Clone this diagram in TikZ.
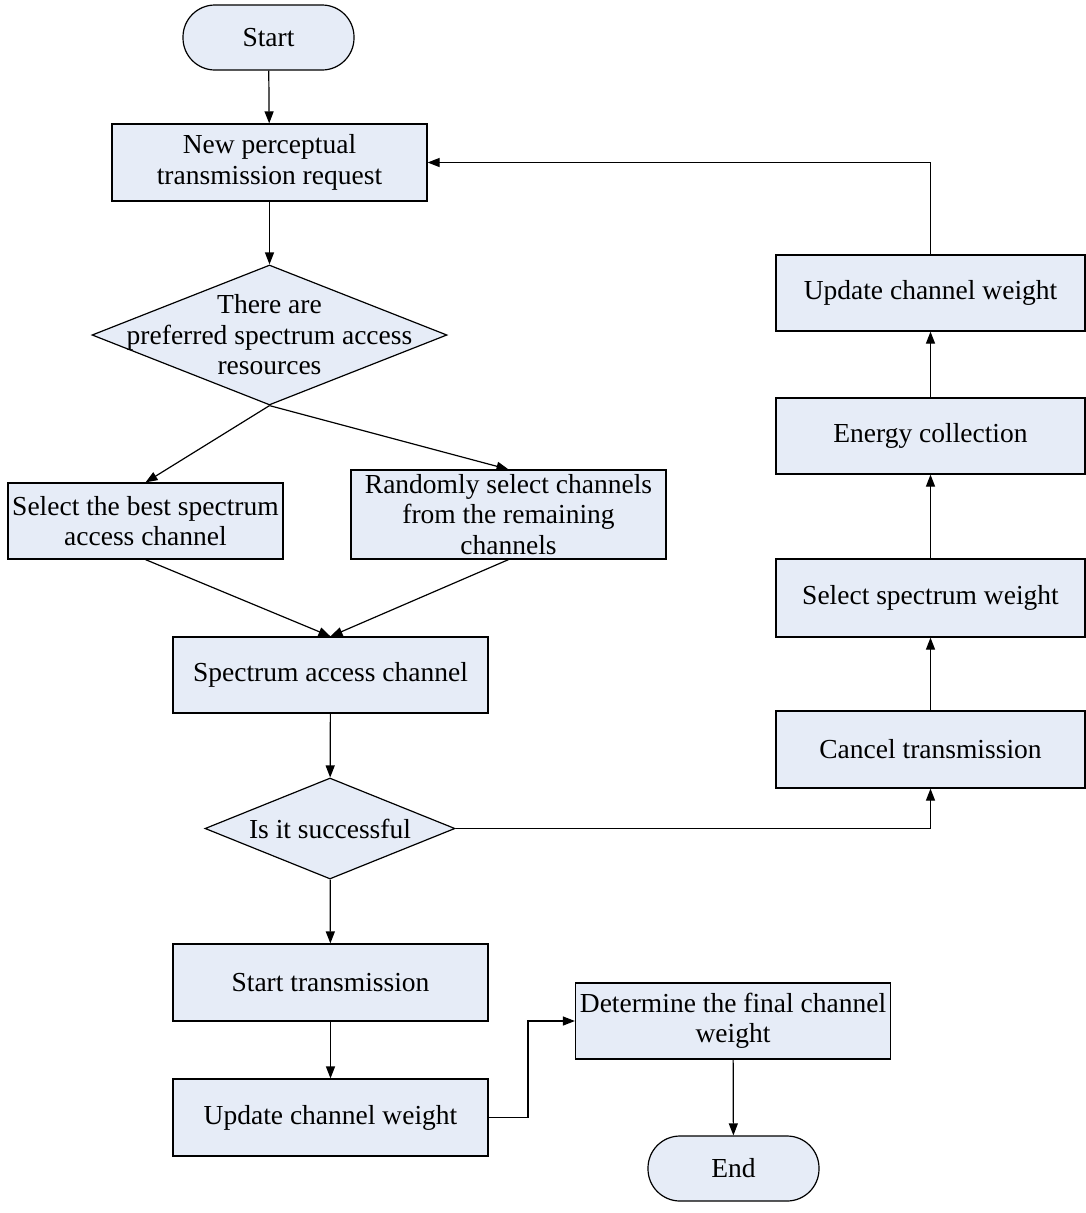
\documentclass[tikz,border=0pt]{standalone}
\usepackage{fontspec}
\setmainfont{Liberation Serif}
\usetikzlibrary{shapes.geometric,arrows.meta}
\definecolor{flowfill}{RGB}{230,236,247}

\begin{document}
\begin{tikzpicture}[x=1pt,y=-1pt,
  proc/.style={draw,fill=flowfill,line width=1.2pt,minimum width=315pt,minimum height=77pt,
    inner xsep=0pt,inner ysep=2pt,align=center,font=\fontsize{27.5}{30.5}\selectfont},
  term/.style={proc,rounded corners=32pt,minimum width=171pt,minimum height=65pt},
  choice/.style={draw,fill=flowfill,line width=1.2pt,diamond,inner sep=0pt,
    label={[align=center,font=\fontsize{27.5}{30.5}\selectfont]center:#1}},
  flow/.style={line width=1.2pt,-{Triangle[length=12pt,width=9pt]}}]
\useasboundingbox (0,0) rectangle (1086,1213);

\node[term] (start) at (268.5,37.5) {Start};
\node[proc] (req) at (269.5,162.5) {New perceptual\\transmission request};
\node[choice={There are\\preferred spectrum access\\resources},minimum width=355pt,minimum height=140pt] (pref) at (269.5,335) {};
\node[proc,minimum width=275pt,minimum height=76pt] (best) at (145.5,521) {Select the best spectrum\\access channel};
\node[proc,minimum height=89pt] (rand) at (508.5,514.5) {Randomly select channels\\from the remaining\\channels};
\node[proc,minimum height=76pt] (access) at (330.5,675) {Spectrum access channel};
\node[choice={Is it successful},minimum width=250pt,minimum height=101pt] (succ) at (330,828.5) {};
\node[proc] (sttx) at (330.5,982.5) {Start transmission};
\node[proc] (updl) at (330.5,1117.5) {Update channel weight};
\node[proc,minimum height=76pt] (final) at (733,1021) {Determine the final channel\\weight};
\node[term] (end) at (733.5,1168.5) {End};

\node[proc,minimum width=309pt,minimum height=76pt] (updr) at (930.5,293) {Update channel weight};
\node[proc,minimum width=309pt,minimum height=76pt] (energy) at (930.5,436) {Energy collection};
\node[proc,minimum width=309pt,minimum height=78pt] (selw) at (930.5,598) {Select spectrum weight};
\node[proc,minimum width=309pt,minimum height=77pt] (cancel) at (930.5,749.5) {Cancel transmission};
\coordinate (knee) at (528,1117.5);

\draw[flow] (start) -- (req);
\draw[flow] (req) -- (pref);
\draw[flow] (pref.south) -- (best.north);
\draw[flow] (pref.south) -- (rand.north);
\draw[flow] (best.south) -- (access.north);
\draw[flow] (rand.south) -- (access.north);
\draw[flow] (access) -- (succ);
\draw[flow] (succ) -- (sttx);
\draw[flow] (sttx) -- (updl);
\draw[flow] (updl.east) -- (knee) |- (final.west);
\draw[flow] (final) -- (end);
\draw[flow] (succ.east) -| (cancel.south);
\draw[flow] (cancel) -- (selw);
\draw[flow] (selw) -- (energy);
\draw[flow] (energy) -- (updr);
\draw[flow] (updr.north) |- (req.east);
\end{tikzpicture}
\end{document}
